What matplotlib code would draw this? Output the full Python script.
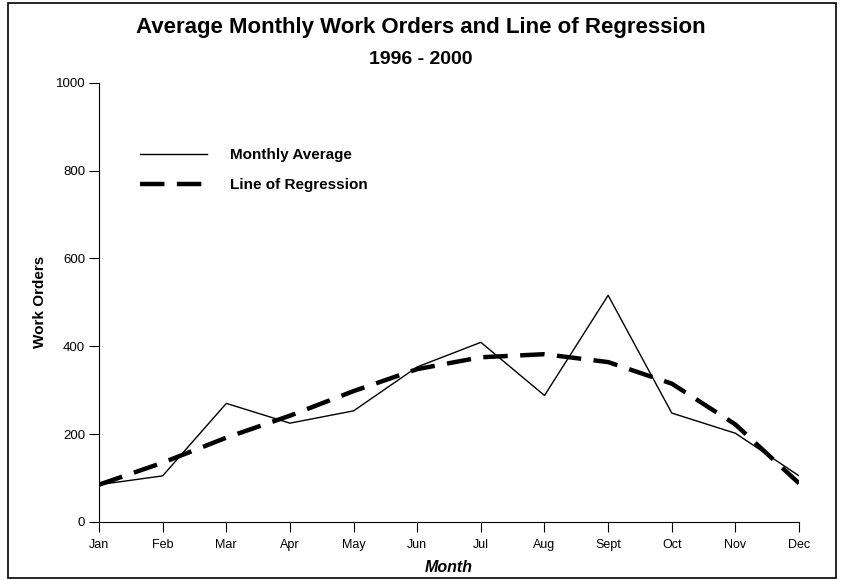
import matplotlib
matplotlib.use('Agg')
import matplotlib.pyplot as plt
from matplotlib.patches import Rectangle

months = ['Jan', 'Feb', 'Mar', 'Apr', 'May', 'Jun', 'Jul', 'Aug', 'Sept', 'Oct', 'Nov', 'Dec']
monthly_avg = [85, 105, 270, 225, 253, 353, 409, 288, 516, 248, 202, 105]
regression = [85, 135, 192, 242, 298, 348, 375, 382, 364, 315, 222, 88]
y_ticks = [0, 200, 400, 600, 800, 1000]

plt.rcParams['font.family'] = ['Liberation Sans', 'DejaVu Sans']

fig = plt.figure(figsize=(8.42, 5.8), dpi=100)
# outer border round the whole chart
fig.patches.append(Rectangle((0.009, 0.004), 0.984, 0.99, transform=fig.transFigure,
                             fill=False, edgecolor='black', linewidth=1.2))

ax = fig.add_axes([0.1176, 0.1, 0.8314, 0.7574])
x = list(range(len(months)))
ax.plot(x, monthly_avg, color='black', linewidth=1.0, label='Monthly Average')
ax.plot(x, regression, color='black', linewidth=3.2, dashes=(5.5, 2.8),
        label='Line of Regression')

ax.set_xlim(0, 11)
ax.set_ylim(0, 1000)
ax.set_xticks(x)
ax.set_xticklabels(months, fontsize=9)
ax.set_yticks(y_ticks)
ax.set_yticklabels([str(v) for v in y_ticks], fontsize=9.5)
ax.tick_params(axis='both', direction='out', length=7, width=0.8)
ax.tick_params(axis='x', pad=5)
ax.tick_params(axis='y', pad=3)
for side in ['top', 'right']:
    ax.spines[side].set_visible(False)
ax.spines['left'].set_linewidth(0.8)
ax.spines['bottom'].set_linewidth(0.8)

# axis titles placed in figure coords
fig.text(40 / 842, 0.5 * (0.1 + 0.8574), 'Work Orders', rotation=90, ha='center',
         va='center', fontsize=11, fontweight='bold')
fig.text(449 / 842, 1 - 567 / 580, 'Month', ha='center', va='center',
         fontsize=11.5, fontweight='bold', style='italic')

fig.text(0.5, 1 - 33 / 580, 'Average Monthly Work Orders and Line of Regression',
         ha='center', va='baseline', fontsize=16, fontweight='bold')
fig.text(0.5, 1 - 64 / 580, '1996 - 2000', ha='center', va='baseline',
         fontsize=14, fontweight='bold')

leg = ax.legend(loc='upper left', bbox_to_anchor=(0.039, 0.882), frameon=False,
                handlelength=4.4, handletextpad=1.5, labelspacing=1.05,
                prop={'weight': 'bold', 'size': 11})

fig.savefig('out.png', dpi=100)
